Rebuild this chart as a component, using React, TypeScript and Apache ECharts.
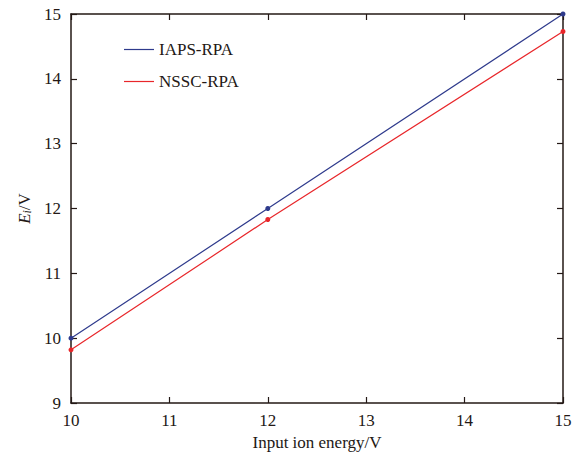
import React, { useEffect, useRef } from "react";
import * as echarts from "echarts";

const xValues = [10, 12, 15];
const iapsValues = [10, 12, 15];
const nsscValues = [9.82, 11.83, 14.73];
const seriesNames = ["IAPS-RPA", "NSSC-RPA"];
const xTitle = "Input ion energy/V";

const FONT = "Liberation Serif";
const INK = "#231815";

export default function App() {
  const ref = useRef<HTMLDivElement>(null);
  useEffect(() => {
    if (!ref.current) return;
    const chart = echarts.init(ref.current, undefined, { renderer: "svg" });
    const mkAxis = () => ({
      axisLine: { show: true, onZero: false, lineStyle: { color: INK, width: 1.5 } },
      axisTick: { show: true, inside: true, length: 6, lineStyle: { color: INK, width: 1.2 } },
      splitLine: { show: false },
    });
    chart.setOption({
      animation: false,
      backgroundColor: "#ffffff",
      grid: { left: 71, right: 13, top: 14, bottom: 56 },
      legend: {
        left: 119,
        top: 36,
        orient: "vertical",
        icon: "rect",
        itemWidth: 30,
        itemHeight: 1.2,
        itemGap: 15,
        textStyle: { fontFamily: FONT, fontSize: 17, color: INK },
        data: seriesNames,
      },
      xAxis: [
        {
          ...mkAxis(),
          type: "value",
          position: "bottom",
          min: 10,
          max: 15,
          interval: 1,
          name: xTitle,
          nameLocation: "middle",
          nameGap: 30,
          nameTextStyle: { fontFamily: FONT, fontSize: 17, color: INK },
          axisLabel: { fontFamily: FONT, fontSize: 17, color: INK, margin: 9 },
        },
        {
          ...mkAxis(),
          type: "value",
          position: "top",
          min: 10,
          max: 15,
          interval: 1,
          axisLabel: { show: false },
        },
      ],
      yAxis: [
        {
          ...mkAxis(),
          type: "value",
          position: "left",
          min: 9,
          max: 15,
          interval: 1,
          name: "{i|E}{s|i}{n|/V}",
          nameLocation: "middle",
          nameGap: 38,
          nameTextStyle: {
            rich: {
              i: { fontFamily: FONT, fontStyle: "italic", fontSize: 17, color: INK },
              s: { fontFamily: FONT, fontStyle: "italic", fontSize: 12, color: INK, verticalAlign: "bottom", padding: [6, 0, 0, 0] },
              n: { fontFamily: FONT, fontSize: 17, color: INK },
            },
          },
          axisLabel: { fontFamily: FONT, fontSize: 17, color: INK, margin: 10 },
        },
        {
          ...mkAxis(),
          type: "value",
          position: "right",
          min: 9,
          max: 15,
          interval: 1,
          axisLabel: { show: false },
        },
      ],
      series: [
        {
          name: seriesNames[0],
          type: "line",
          data: xValues.map((x, i) => [x, iapsValues[i]]),
          symbol: "circle",
          symbolSize: 5,
          clip: false,
          z: 5,
          itemStyle: { color: "#2e3a8c" },
          lineStyle: { color: "#2e3a8c", width: 1.2 },
        },
        {
          name: seriesNames[1],
          type: "line",
          data: xValues.map((x, i) => [x, nsscValues[i]]),
          symbol: "circle",
          symbolSize: 5,
          clip: false,
          z: 5,
          itemStyle: { color: "#e8262a" },
          lineStyle: { color: "#e8262a", width: 1.2 },
        },
      ],
    });
    return () => chart.dispose();
  }, []);
  return (
    <div
      ref={ref}
      style={{ width: 576, height: 459, position: "absolute", left: 0, top: 0 }}
    />
  );
}
